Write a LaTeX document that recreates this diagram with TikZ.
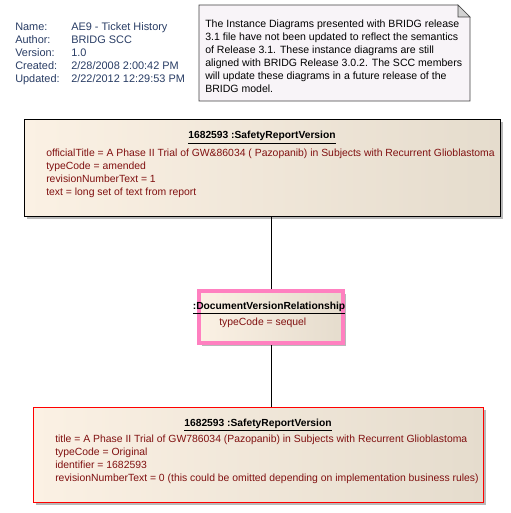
\documentclass[tikz,border=0pt]{standalone}
\usepackage{fontspec}
\setmainfont{Liberation Sans}
\usetikzlibrary{positioning,shadows}
\definecolor{attrred}{RGB}{128,16,16}
\definecolor{metablue}{RGB}{40,60,100}
\definecolor{boxleft}{RGB}{251,241,228}
\definecolor{boxright}{RGB}{229,220,205}
\definecolor{notefill}{RGB}{248,244,248}
\definecolor{linkpink}{RGB}{255,128,192}

\begin{document}
\begin{tikzpicture}[
    x=0.75pt, y=-0.75pt,
    every node/.style={font=\fontsize{7.8}{9.75}\selectfont, inner sep=0pt},
    instance/.style={draw, rectangle, anchor=north west, left color=boxleft, right color=boxright,
        drop shadow={shadow xshift=2.25pt, shadow yshift=-2.25pt, draw=none, fill=gray!55, opacity=1}},
    title/.style={anchor=base, text=black, font=\fontsize{7.7}{9.75}\selectfont},
    attrs/.style={anchor=north west, align=left, text=attrred},
    meta/.style={anchor=base west, text=metablue, font=\fontsize{8.2}{9.75}\selectfont}
]
\useasboundingbox (0,0) rectangle (510,513);

% model details
\node[meta] (namekey) at (15,31) {Name:};
\node[meta] (authorkey) at (15,44) {Author:};
\node[meta] (versionkey) at (15,57) {Version:};
\node[meta] (createdkey) at (15,70) {Created:};
\node[meta] (updatedkey) at (15,83) {Updated:};
\node[meta] (nameval) at (71,31) {AE9 - Ticket History};
\node[meta] (authorval) at (71,44) {BRIDG SCC};
\node[meta] (versionval) at (71,57) {1.0};
\node[meta] (createdval) at (71,70) {2/28/2008 2:00:42 PM};
\node[meta] (updatedval) at (71,83) {2/22/2012 12:29:53 PM};

% note
\draw[fill=notefill, draw=black!75] (199,5) -- (458,5) -- (470,17) -- (470,101) -- (199,101) -- cycle;
\draw[fill=gray!35, draw=black!75] (458,5) -- (458,17) -- (470,17) -- cycle;
\node[anchor=north west, align=left, font=\fontsize{7.9}{9.75}\selectfont] (notetext) at (205,20)
    {The Instance Diagrams presented with BRIDG release\\
     3.1 file have not been updated to reflect the semantics\\
     of Release 3.1. These instance diagrams are still\\
     aligned with BRIDG Release 3.0.2. The SCC members\\
     will update these diagrams in a future release of the\\
     BRIDG model.};

% instances
\node[instance, minimum width=476*0.75pt, minimum height=97*0.75pt] (amended) at (24,119) {};
\node[title] (amendedtitle) at (262,139) {\underline{\textbf{1682593 :SafetyReportVersion}}};
\node[attrs] (amendedattrs) at (46,149)
    {officialTitle = A Phase II Trial of GW\&86034 ( Pazopanib) in Subjects with Recurrent Glioblastoma\\
     typeCode = amended\\
     revisionNumberText = 1\\
     text = long set of text from report};

\node[instance, draw=linkpink, line width=3pt, minimum width=144*0.75pt, minimum height=52*0.75pt] (relation) at (197,289) {};
\node[title] (relationtitle) at (269,309) {\underline{\textbf{:DocumentVersionRelationship}}};
\node[attrs] (relationattrs) at (219,318) {typeCode = sequel};

\node[instance, draw=red, minimum width=450*0.75pt, minimum height=95*0.75pt] (original) at (33,407) {};
\node[title] (originaltitle) at (258,426) {\underline{\textbf{1682593 :SafetyReportVersion}}};
\node[attrs] (originalattrs) at (55,435)
    {title = A Phase II Trial of GW786034 (Pazopanib) in Subjects with Recurrent Glioblastoma\\
     typeCode = Original\\
     identifier = 1682593\\
     revisionNumberText = 0 (this could be omitted depending on implementation business rules)};

% links
\draw (relation.north) -- (relation.north |- amended.south);
\draw (relation.south) -- (relation.south |- original.north);
\end{tikzpicture}
\end{document}
